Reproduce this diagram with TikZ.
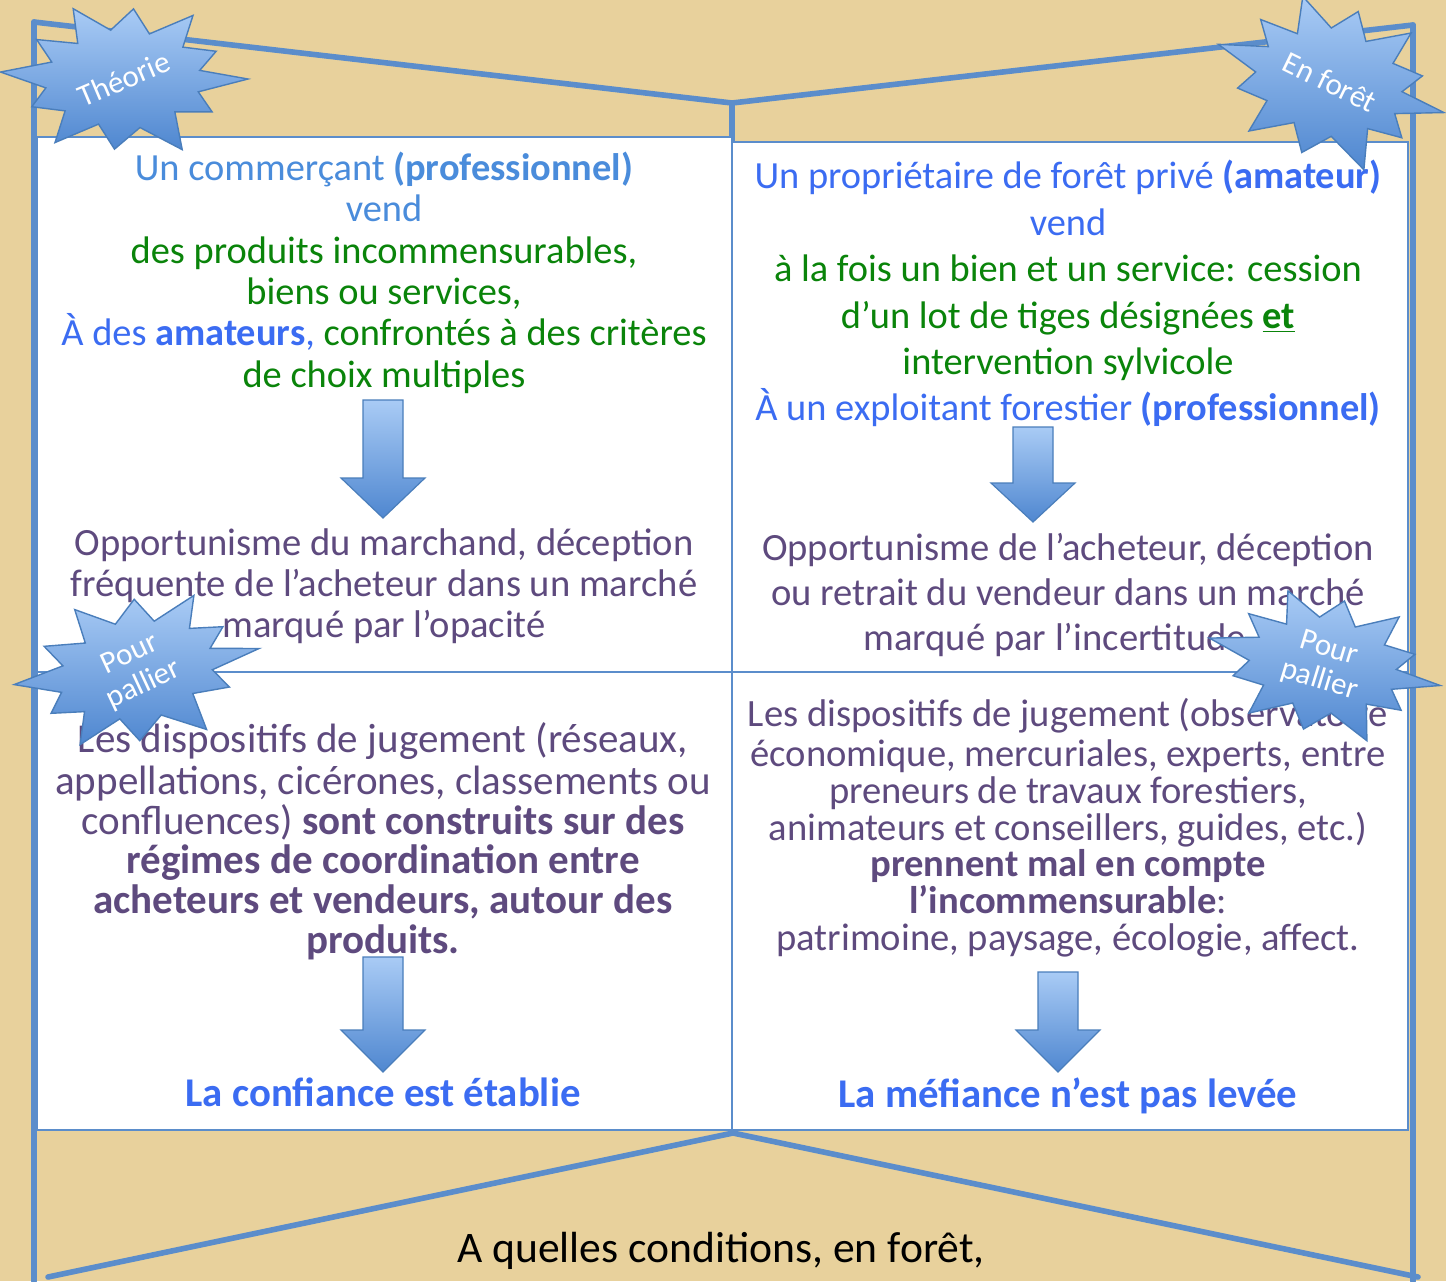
\documentclass[tikz,border=0pt]{standalone}
\usepackage{fontspec}
\setmainfont{Carlito}
\usepackage{tikz}

\definecolor{parchment}{HTML}{E8D19C}
\definecolor{frameblue}{HTML}{5B8DCB}
\definecolor{lightblue}{HTML}{4A8CDB}
\definecolor{brightblue}{HTML}{3B6CF2}
\definecolor{leafgreen}{HTML}{0A840A}
\definecolor{plum}{HTML}{5E4A7E}
\definecolor{burstlight}{HTML}{A9CBF5}
\definecolor{burstdark}{HTML}{4F87D0}
\definecolor{burstedge}{HTML}{4A7EBB}

\tikzset{
  frameline/.style={frameblue, line width=2.8pt, line cap=round},
  panel/.style={fill=white, draw=frameblue, line width=0.8pt},
  burst/.style={top color=burstlight, bottom color=burstdark, draw=burstedge, line width=0.7pt},
  bursttext/.style={white, font=\fontsize{15.5}{16.5}\selectfont, align=center, inner sep=0pt},
  arrowbox/.style={top color=burstlight, bottom color=burstdark, draw=burstedge, line width=0.6pt},
  body/.style={align=center, inner sep=0pt, anchor=north},
}

% star burst: name, centre, x radius, y radius, turn, text angle, text
\newcommand{\burst}[7]{%
  \begin{scope}[shift={#2}, rotate=#5, xscale=#3, yscale=#4]
    \draw[burst] (0:1) \foreach \a/\r in {15/0.62,30/0.82,45/0.58,62/1.0,78/0.62,95/0.88,110/0.6,125/0.97,140/0.62,155/0.82,170/0.64,185/1.0,200/0.62,215/0.86,230/0.58,245/0.97,260/0.62,275/0.88,290/0.6,305/0.97,320/0.62,335/0.82,350/0.62} { -- (\a:\r) } -- cycle;
  \end{scope}
  \node[bursttext, rotate=#6] (#1) at #2 {#7};
}

% block arrow: x, top, neck, tip
\newcommand{\blockarrow}[4]{%
  \draw[arrowbox] (#1-20,#2) -- (#1+20,#2) -- (#1+20,#3) -- (#1+42,#3) -- (#1,#4)
    -- (#1-42,#3) -- (#1-20,#3) -- cycle;
}

\begin{document}
\begin{tikzpicture}[x=0.5pt, y=-0.5pt]

\fill[parchment] (0,0) rectangle (1446,1281);
\useasboundingbox (0,0) rectangle (1446,1281);

% frame of the book
\coordinate (TL) at (34,22);
\coordinate (TM) at (732,103);
\coordinate (TR) at (1413,25);
\coordinate (BM) at (733,1133);

\draw[frameline] (TL) -- (TM) -- (TR);
\draw[frameline] (TL) -- (34,1281);
\draw[frameline] (TR) -- (1413,1281);
\draw[frameline] (TM) -- (732,142);
\draw[frameline] (BM) -- (48,1277);
\draw[frameline] (BM) -- (1418,1277);

% pages
\draw[panel] (37,137) rectangle (732,1130);
\draw[panel] (732,142) rectangle (1408,1130);
\draw[frameblue, line width=0.8pt] (37,672) -- (1408,672);

% top left
\node[body, font=\fontsize{19.2}{20.7}\selectfont] (commercant) at (384,151) {\strut\textcolor{lightblue}{Un commerçant \textbf{(professionnel)}}\\
\textcolor{lightblue}{vend}\\
\textcolor{leafgreen}{des produits incommensurables,}\\
\textcolor{leafgreen}{biens ou services,}\\
\textcolor{brightblue}{À des \textbf{amateurs},} \textcolor{leafgreen}{confrontés à des critères}\\
\textcolor{leafgreen}{de choix multiples}};

\blockarrow{383}{400}{478}{518}

\node[body, text=plum, font=\fontsize{19.3}{20.5}\selectfont] (marchand) at (384,526) {\strut Opportunisme du marchand, déception\\
fréquente de l’acheteur dans un marché\\
marqué par l’opacité};

% bottom left
\node[body, text=plum, font=\fontsize{20.5}{19.8}\selectfont] (reseaux) at (383,722) {\strut Les dispositifs de jugement (réseaux,\\
appellations, cicérones, classements ou\\
confluences) \textbf{sont construits sur des}\\
\textbf{régimes de coordination entre}\\
\textbf{acheteurs et vendeurs, autour des}\\
\textbf{produits.}};

\blockarrow{383}{957}{1030}{1072}

\node[anchor=base, inner sep=0pt, text=brightblue, font=\fontsize{20.4}{21}\selectfont\bfseries] (confiance) at (383,1106) {La confiance est établie};

% top right
\node[body, font=\fontsize{19.2}{23.2}\selectfont] (proprietaire) at (1068,156) {\strut\textcolor{brightblue}{Un propriétaire de forêt privé \textbf{(amateur)}}\\
\textcolor{brightblue}{vend}\\
\textcolor{leafgreen}{à la fois un bien et un service: cession}\\
\textcolor{leafgreen}{d’un lot de tiges désignées \underline{\textbf{et}}}\\
\textcolor{leafgreen}{intervention sylvicole}\\
\textcolor{brightblue}{À un exploitant forestier \textbf{(professionnel)}}};

\blockarrow{1033}{427}{483}{522}

\node[body, text=plum, font=\fontsize{19.3}{22.5}\selectfont] (acheteur) at (1068,529) {\strut Opportunisme de l’acheteur, déception\\
ou retrait du vendeur dans un marché\\
marqué par l’incertitude…};

% bottom right
\node[body, text=plum, font=\fontsize{19.3}{18.4}\selectfont] (observatoire) at (1068,698) {\strut Les dispositifs de jugement (observatoire\\
économique, mercuriales, experts, entre\\
preneurs de travaux forestiers,\\
animateurs et conseillers, guides, etc.)\\
\textbf{prennent mal en compte}\\
\textbf{l’incommensurable}:\\
patrimoine, paysage, écologie, affect.};

\blockarrow{1058}{972}{1030}{1072}

\node[anchor=base, inner sep=0pt, text=brightblue, font=\fontsize{20.4}{21}\selectfont\bfseries] (mefiance) at (1068,1107) {La méfiance n’est pas levée};

\node[anchor=base, inner sep=0pt, font=\fontsize{21.8}{22}\selectfont] (question) at (721,1262) {A quelles conditions, en forêt,};

% bursts
\burst{theorie}{(124,79)}{124}{80}{0}{23}{Théorie}
\burst{foret}{(1330,82)}{118}{86}{-15}{-26}{En forêt}
\burst{pallierL}{(137,670)}{124}{80}{10}{25}{Pour\\pallier}
\burst{pallierR}{(1324,665)}{118}{76}{-10}{-17}{Pour\\pallier}

\end{tikzpicture}
\end{document}
